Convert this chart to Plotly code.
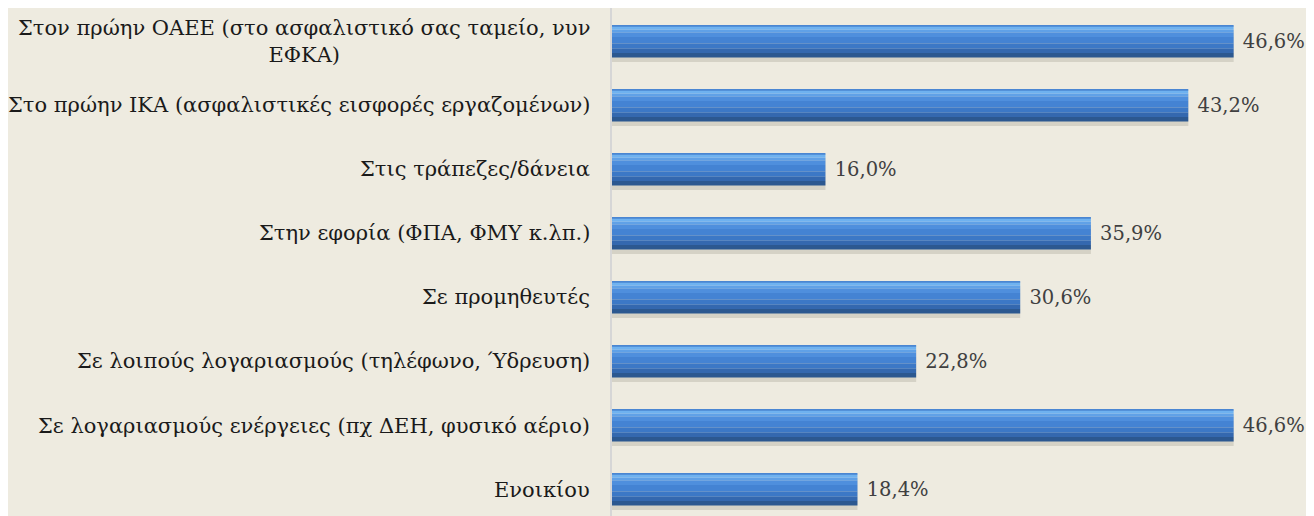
import plotly.graph_objects as go

# categories top to bottom, as in the source chart
categories = [
    "Στον πρώην ΟΑΕΕ (στο ασφαλιστικό σας ταμείο, νυν<br>ΕΦΚΑ)",
    "Στο πρώην ΙΚΑ (ασφαλιστικές εισφορές εργαζομένων)",
    "Στις τράπεζες/δάνεια",
    "Στην εφορία (ΦΠΑ, ΦΜΥ κ.λπ.)",
    "Σε προμηθευτές",
    "Σε λοιπούς λογαριασμούς (τηλέφωνο, Ύδρευση)",
    "Σε λογαριασμούς ενέργειες (πχ ΔΕΗ, φυσικό αέριο)",
    "Ενοικίου",
]
values = [46.6, 43.2, 16.0, 35.9, 30.6, 22.8, 46.6, 18.4]

FONT = "DejaVu Serif"
BG = "#EEEBE0"
BAR_W = 0.5

# bands (from, to as fraction of bar thickness, colour) that fake the bevel
bands = [
    (0.00, 0.04, "#4A86D2"),
    (0.04, 0.13, "#6FB2F0"),
    (0.13, 0.23, "#60A1E7"),
    (0.23, 0.36, "#4F8FDD"),
    (0.36, 0.56, "#4483D3"),
    (0.56, 0.73, "#3C78C6"),
    (0.73, 0.86, "#3468AF"),
    (0.86, 1.00, "#2C5890"),
]

fig = go.Figure()

# soft drop shadow under each bar
fig.add_trace(go.Bar(
    y=categories, x=values, orientation="h",
    width=BAR_W, offset=-BAR_W / 2 + 0.07,
    marker=dict(color="rgba(90,80,60,0.16)", line=dict(width=0)),
    hoverinfo="skip",
))
for a, b, col in bands:
    fig.add_trace(go.Bar(
        y=categories, x=values, orientation="h",
        width=(b - a) * BAR_W, offset=-BAR_W / 2 + a * BAR_W,
        marker=dict(color=col, line=dict(width=0)),
        hoverinfo="skip",
    ))

# invisible full-size bar that carries the value labels
fig.add_trace(go.Bar(
    y=categories, x=values, orientation="h",
    width=BAR_W, offset=-BAR_W / 2,
    marker=dict(color="rgba(0,0,0,0)", line=dict(width=0)),
    texttemplate="\u00a0%{x:.1f}%", textposition="outside",
    cliponaxis=False, constraintext="none",
    textfont=dict(family=FONT, size=19.5, color="#404040"),
    hoverinfo="skip",
))

# category labels as annotations so wrapped lines stay centred
annotations = [
    dict(x=0, y=c, xref="paper", yref="y", text=c, showarrow=False,
         xanchor="right", align="center", xshift=-20,
         font=dict(family=FONT, size=21, color="#1a1a1a"))
    for c in categories
]

# the page body adds 8px on the left and top, margins compensate for it
fig.update_layout(
    width=1314, height=516,
    margin=dict(l=604, r=43, t=0, b=8),
    paper_bgcolor=BG, plot_bgcolor=BG,
    barmode="overlay", showlegend=False,
    separators=",.",
    annotations=annotations,
    xaxis=dict(range=[0, 50], visible=False),
    yaxis=dict(
        categoryorder="array", categoryarray=categories,
        range=[7.414, -0.523], showticklabels=False, ticks="",
        showgrid=False, showline=True, linecolor="#D6D6D6", linewidth=2,
        zeroline=False,
    ),
)

fig.write_html("out.html")
